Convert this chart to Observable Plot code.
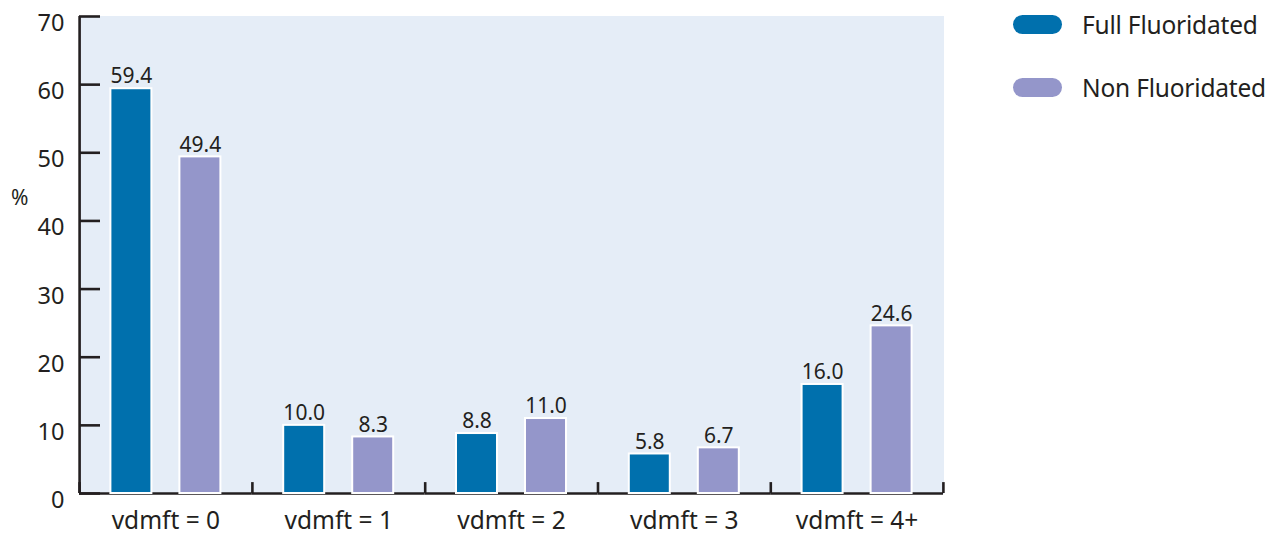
<!DOCTYPE html>
<html><head><meta charset="utf-8">
<script src="https://cdn.jsdelivr.net/npm/d3@7"></script>
<script src="https://cdn.jsdelivr.net/npm/@observablehq/plot@0.6"></script>
<style>
body{margin:0;background:#fff;font-family:"Noto Sans",sans-serif;color:#231f20;}
#wrap{position:relative;width:1269px;height:535px;overflow:hidden;}
#wrap svg{display:block;}
.ylab{position:absolute;left:11px;top:184px;font-size:21px;line-height:26px;}
.legend{position:absolute;left:1013px;top:15px;}
.item{display:flex;align-items:center;height:19px;margin-bottom:44px;}
.sw{width:49px;height:19px;border-radius:9.5px;margin-right:20px;flex:none;}
.item span{font-size:24.5px;white-space:nowrap;letter-spacing:-0.2px;}
</style></head><body>
<div id="wrap"></div>
<script>
const groups = ["vdmft = 0", "vdmft = 1", "vdmft = 2", "vdmft = 3", "vdmft = 4+"];
const series = ["Full Fluoridated", "Non Fluoridated"];
const fullValues = [59.4, 10.0, 8.8, 5.8, 16.0];
const nonValues = [49.4, 8.3, 11.0, 6.7, 24.6];
const yTicks = [0, 10, 20, 30, 40, 50, 60, 70];
const colors = ["#0070ad", "#9496ca"];
const bg = "#e5edf7";
const ink = "#231f20";

const data = groups.flatMap((g, i) => [
  {group: g, series: series[0], value: fullValues[i]},
  {group: g, series: series[1], value: nonValues[i]}
]);

const off = 51.8;
const chart = Plot.plot({
  width: 1269, height: 535,
  marginLeft: 79, marginRight: 326, marginTop: 16, marginBottom: 42,
  style: {fontFamily: "Noto Sans", color: ink, background: "transparent", overflow: "visible"},
  fx: {domain: groups, padding: 0, round: false, label: null},
  x: {domain: series, paddingInner: 0.406, paddingOuter: 0.455, round: false, axis: null},
  y: {domain: [0, 70]},
  color: {domain: series, range: colors},
  marks: [
    Plot.frame({fill: bg, stroke: bg, strokeWidth: 1}),
    Plot.ruleY([0], {stroke: ink, strokeWidth: 2.6}),
    Plot.barY(data, {fx: "group", x: "series", y: "value", fill: "series", stroke: "white", strokeWidth: 2}),
    Plot.text(data, {fx: "group", x: "series", y: "value", text: d => d.value.toFixed(1), dy: -12, fontSize: 21, fill: ink}),
    Plot.ruleX(groups, {fx: d => d, x: () => series[0], y1: 0, y2: 1.6, dx: -off, stroke: ink, strokeWidth: 2.6}),
    Plot.ruleX([groups[groups.length - 1]], {fx: d => d, x: () => series[1], y1: 0, y2: 1.6, dx: off, stroke: ink, strokeWidth: 2.6}),
    Plot.ruleX([groups[0]], {fx: d => d, x: () => series[0], y1: 0, y2: 70, dx: -off, stroke: ink, strokeWidth: 2.6}),
    Plot.axisY(yTicks, {tickSize: 21, dx: 21, tickFormat: () => "", label: null, strokeWidth: 2.6, stroke: ink}),
    Plot.axisY(yTicks, {tickSize: 0, tickPadding: 15, dy: 7, fontSize: 23.5, label: null, fill: ink}),
    Plot.axisFx({anchor: "bottom", tickSize: 0, tickPadding: 18, fontSize: 24.5, label: null, fill: ink})
  ]
});

const wrap = document.getElementById("wrap");
wrap.appendChild(chart);
const yl = document.createElement("div");
yl.className = "ylab"; yl.textContent = "%";
wrap.appendChild(yl);
const lg = document.createElement("div");
lg.className = "legend";
series.forEach((s, i) => {
  const it = document.createElement("div");
  it.className = "item";
  const sw = document.createElement("div");
  sw.className = "sw"; sw.style.background = colors[i];
  const t = document.createElement("span");
  t.textContent = s;
  it.appendChild(sw); it.appendChild(t);
  lg.appendChild(it);
});
wrap.appendChild(lg);
</script>
</body></html>
